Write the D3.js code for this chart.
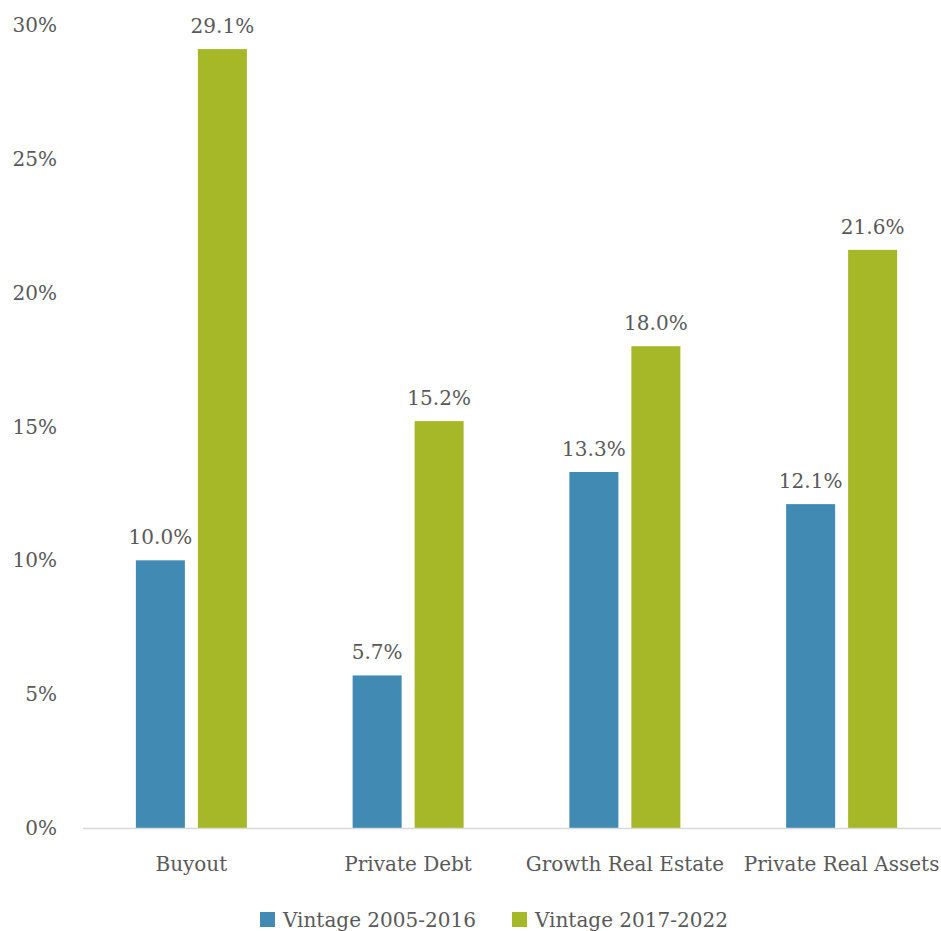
<!DOCTYPE html>
<html>
<head>
<meta charset="utf-8">
<script src="https://cdn.jsdelivr.net/npm/d3@7/dist/d3.min.js"></script>
<style>
  body { margin: 0; background: #fff; }
  svg text { font-family: "DejaVu Serif", "Liberation Serif", serif; fill: #595959; }
</style>
</head>
<body>
<svg id="chart" width="941" height="931"></svg>
<script>
const categories = ["Buyout", "Private Debt", "Growth Real Estate", "Private Real Assets"];
const seriesNames = ["Vintage 2005-2016", "Vintage 2017-2022"];
const vintageEarly = [10.0, 5.7, 13.3, 12.1];
const vintageLate = [29.1, 15.2, 18.0, 21.6];
const yTicks = [0, 5, 10, 15, 20, 25, 30];
const colors = ["#418AB3", "#A6B727"];

const svg = d3.select("#chart");
const fontSize = 20;

const x = d3.scaleBand().domain(categories).range([83, 950]).paddingInner(0).paddingOuter(0);
const y = d3.scaleLinear().domain([0, 30]).range([828, 25]);
const barW = 49, barGap = 13;

const series = [vintageEarly, vintageLate];

// y-axis tick labels (no gridlines)
svg.append("g").selectAll("text").data(yTicks).join("text")
  .attr("x", 57).attr("y", d => y(d))
  .attr("dy", "0.35em")
  .attr("text-anchor", "end")
  .style("font-size", fontSize + "px")
  .text(d => d + "%");

// bars and value labels
series.forEach((vals, si) => {
  const g = svg.append("g");
  const offset = si === 0 ? -(barGap / 2 + barW) : barGap / 2;
  g.selectAll("rect").data(vals).join("rect")
    .attr("x", (d, i) => x(categories[i]) + x.bandwidth() / 2 + offset)
    .attr("y", d => y(d))
    .attr("width", barW)
    .attr("height", d => y(0) - y(d))
    .attr("fill", colors[si]);
  g.selectAll("text").data(vals).join("text")
    .attr("x", (d, i) => x(categories[i]) + x.bandwidth() / 2 + offset + barW / 2)
    .attr("y", d => y(d) - 16)
    .attr("text-anchor", "middle")
    .style("font-size", fontSize + "px")
    .text(d => d.toFixed(1) + "%");
});

// baseline
svg.append("line")
  .attr("x1", 83).attr("x2", 941)
  .attr("y1", y(0) + 0.5).attr("y2", y(0) + 0.5)
  .attr("stroke", "#d9d9d9").attr("stroke-width", 1.5);

// category labels
svg.append("g").selectAll("text").data(categories).join("text")
  .attr("x", d => x(d) + x.bandwidth() / 2)
  .attr("y", 871)
  .attr("text-anchor", "middle")
  .style("font-size", fontSize + "px")
  .text(d => d);

// legend
const legendX = [260, 512];
const legend = svg.append("g").selectAll("g").data(seriesNames).join("g")
  .attr("transform", (d, i) => `translate(${legendX[i]},912)`);
legend.append("rect").attr("width", 15).attr("height", 15).attr("fill", (d, i) => colors[i]);
legend.append("text").attr("x", 23).attr("y", 15)
  .style("font-size", fontSize + "px")
  .text(d => d);
</script>
</body>
</html>
